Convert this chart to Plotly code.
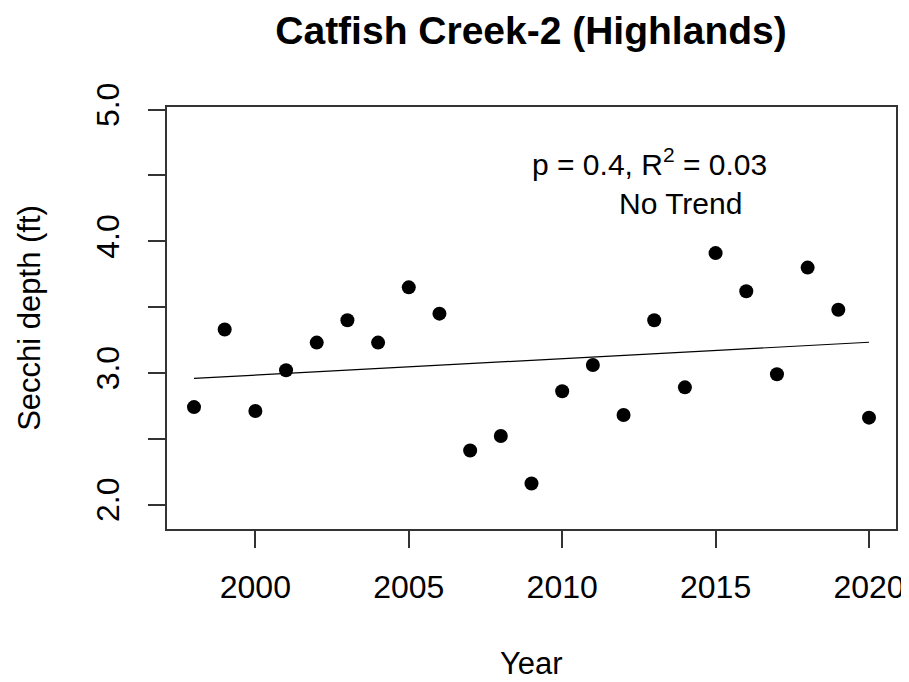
import numpy as np
import plotly.graph_objects as go

# Secchi depth by year, Catfish Creek-2 (Highlands)
years = list(range(1998, 2021))
secchi_ft = [2.74, 3.33, 2.71, 3.02, 3.23, 3.40, 3.23, 3.65, 3.45, 2.41, 2.52, 2.16,
             2.86, 3.06, 2.68, 3.40, 2.89, 3.91, 3.62, 2.99, 3.80, 3.48, 2.66]

x_ticks = [2000, 2005, 2010, 2015, 2020]
y_ticks = [2.0, 2.5, 3.0, 3.5, 4.0, 4.5, 5.0]
y_ticktext = ["2.0", "", "3.0", "", "4.0", "", "5.0"]

stats_text = "p = 0.4, R<sup>2</sup> = 0.03"
trend_text = "No Trend"

# linear fit for the trend line
slope, intercept = np.polyfit(years, secchi_ft, 1)
fit_x = [years[0], years[-1]]
fit_y = [intercept + slope * v for v in fit_x]

font_family = "Liberation Sans, Arial, sans-serif"

fig = go.Figure()

fig.add_trace(
    go.Scatter(
        x=years,
        y=secchi_ft,
        mode="markers",
        marker=dict(size=14, color="black"),
        hovertemplate="%{x}: %{y:.2f} ft<extra></extra>",
    )
)

fig.add_trace(
    go.Scatter(
        x=fit_x,
        y=fit_y,
        mode="lines",
        line=dict(color="black", width=1.2),
        hoverinfo="skip",
    )
)

fig.add_annotation(
    x=2012.85, y=4.60, xref="x", yref="y",
    text=stats_text, showarrow=False,
    font=dict(size=30, color="black", family=font_family),
)
fig.add_annotation(
    x=2013.86, y=4.29, xref="x", yref="y",
    text=trend_text, showarrow=False,
    font=dict(size=30, color="black", family=font_family),
)
# x axis title as an annotation so it can sit lower (standoff is ignored without automargin)
fig.add_annotation(
    x=0.5, y=0, xref="paper", yref="paper",
    yanchor="middle", yshift=-134,
    text="Year", showarrow=False,
    font=dict(size=31, color="black", family=font_family),
)

# page body has an 8px margin, so the figure is a bit smaller than the window
fig.update_layout(
    width=901,
    height=666,
    showlegend=False,
    plot_bgcolor="white",
    paper_bgcolor="white",
    font=dict(family=font_family, color="black"),
    margin=dict(l=159, r=13, t=99, b=145),
    title=dict(
        text="<b>Catfish Creek-2 (Highlands)</b>",
        x=523 / 901, xanchor="center",
        y=1 - 22.5 / 666, yanchor="middle",
        font=dict(size=39, color="black", family=font_family),
    ),
)

fig.update_xaxes(
    range=[1997.12, 2020.88],
    tickvals=x_ticks,
    ticks="outside", ticklen=17, tickwidth=1.5, tickcolor="#333",
    tickfont=dict(size=32),
    ticklabelstandoff=12,
    showgrid=False, zeroline=False,
    showline=True, linecolor="#333", linewidth=1.5, mirror=True,
    automargin=False,
)

fig.update_yaxes(
    range=[1.814, 5.02],
    tickvals=y_ticks,
    ticktext=y_ticktext,
    tickangle=-90,
    ticks="outside", ticklen=17, tickwidth=1.5, tickcolor="#333",
    tickfont=dict(size=32),
    ticklabelstandoff=16,
    showgrid=False, zeroline=False,
    showline=True, linecolor="#333", linewidth=1.5, mirror=True,
    automargin=False,
    title=dict(text="Secchi depth (ft)", font=dict(size=31), standoff=41),
)

fig.write_html("out.html")
